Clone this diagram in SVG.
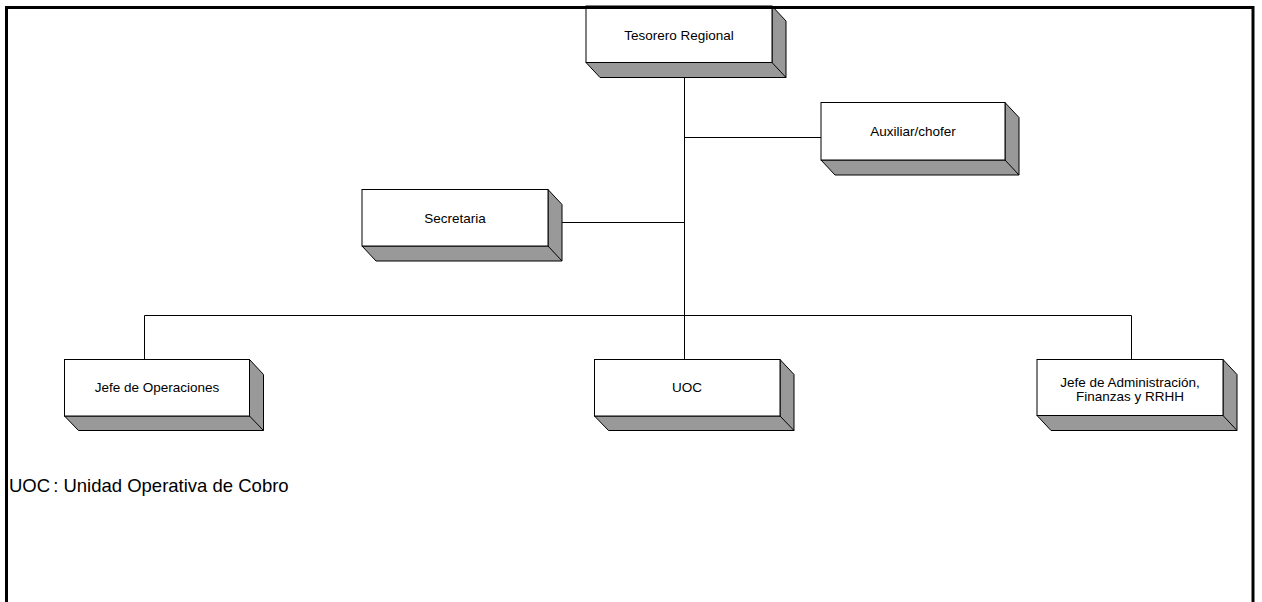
<svg xmlns="http://www.w3.org/2000/svg" width="1262" height="602" viewBox="0 0 1262 602">
<style>
.face{fill:#fff;stroke:#000;stroke-width:1}
.side{fill:#999;stroke:#000;stroke-width:1;stroke-linejoin:miter}
.lbl{font-family:"Liberation Sans",Arial,sans-serif;font-size:13.5px;fill:#000;text-anchor:middle}
.conn{fill:none;stroke:#000;stroke-width:1}
</style>
<rect width="1262" height="602" fill="#fff"/>
<g id="connectors" class="conn">
<path d="M684.5,77 V359.5"/>
<path d="M684.5,137.5 H821"/>
<path d="M562,222.5 H684.5"/>
<path d="M144.5,315.5 H1131.5"/>
<path d="M144.5,315.5 V359.5"/>
<path d="M1131.5,315.5 V359.5"/>
</g>
<g id="n-tesorero">
<path class="side" d="M772,6 L786,21 L786,77.5 L600,77.5 L586,62.5 L772,62.5 Z"/>
<path class="side" d="M772,62.5 L786,77.5"/>
<rect class="face" x="586" y="6" width="186" height="56.5"/>
<text class="lbl" x="679" y="39.5">Tesorero Regional</text>
</g>
<g id="n-auxiliar">
<path class="side" d="M1005,102.5 L1019,117.5 L1019,175 L835,175 L821,160 L1005,160 Z"/>
<path class="side" d="M1005,160 L1019,175"/>
<rect class="face" x="821" y="102.5" width="184" height="57.5"/>
<text class="lbl" x="913" y="136">Auxiliar/chofer</text>
</g>
<g id="n-secretaria">
<path class="side" d="M548,189.5 L562,204.5 L562,261 L376,261 L362,246 L548,246 Z"/>
<path class="side" d="M548,246 L562,261"/>
<rect class="face" x="362" y="189.5" width="186" height="56.5"/>
<text class="lbl" x="455" y="222.5">Secretaria</text>
</g>
<g id="n-jefe-operaciones">
<path class="side" d="M249.5,359.5 L263.5,374.5 L263.5,430.5 L78.5,430.5 L64.5,416 L249.5,416 Z"/>
<path class="side" d="M249.5,416 L263.5,430.5"/>
<rect class="face" x="64.5" y="359.5" width="185" height="56.5"/>
<text class="lbl" x="157" y="392">Jefe de Operaciones</text>
</g>
<g id="n-uoc">
<path class="side" d="M780,359.5 L794,374.5 L794,430.5 L608.5,430.5 L594.5,416 L780,416 Z"/>
<path class="side" d="M780,416 L794,430.5"/>
<rect class="face" x="594.5" y="359.5" width="185.5" height="56.5"/>
<text class="lbl" x="687" y="392">UOC</text>
</g>
<g id="n-jefe-administracion">
<path class="side" d="M1223,359.5 L1237,374.5 L1237,430.5 L1051,430.5 L1037,415.5 L1223,415.5 Z"/>
<path class="side" d="M1223,415.5 L1237,430.5"/>
<rect class="face" x="1037" y="359.5" width="186" height="56"/>
<text class="lbl" x="1130" y="387">Jefe de Administración,</text>
<text class="lbl" x="1130" y="400.5">Finanzas y RRHH</text>
</g>
<text id="legend" x="9" y="492" font-family="'Liberation Sans',Arial,sans-serif" font-size="18.5" fill="#000">UOC<tspan dx="3">: Unidad Operativa de Cobro</tspan></text>
<path id="frame" d="M6.5,610 V7.5 H1253 V610" fill="none" stroke="#000" stroke-width="3"/>
</svg>
